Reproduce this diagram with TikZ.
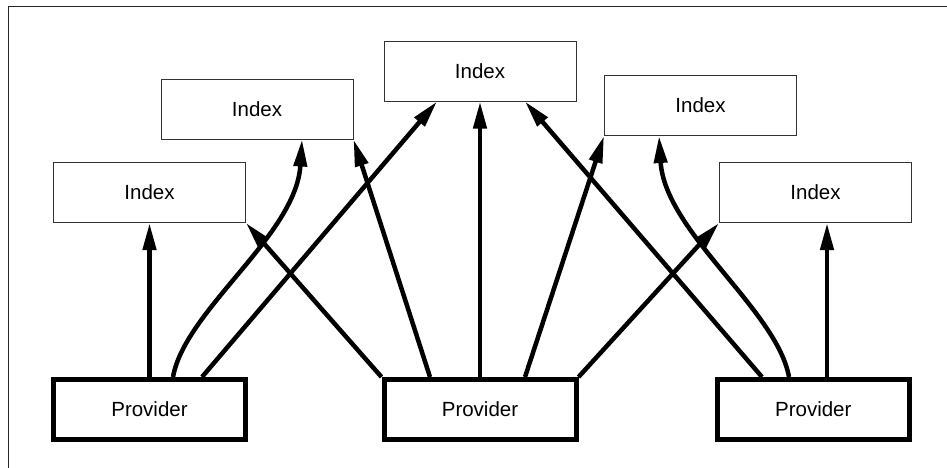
\documentclass[tikz,border=0pt]{standalone}
\usepackage{fontspec}
\setmainfont{Liberation Sans}
\usetikzlibrary{arrows.meta}
\begin{document}
\begin{tikzpicture}[x=1pt,y=-1pt,
  indexbox/.style={draw=black!80, line width=1pt, minimum width=192pt, minimum height=60pt, inner sep=0pt, font=\fontsize{20.5}{24}\selectfont},
  provbox/.style={draw=black, line width=5pt, minimum width=192pt, minimum height=60pt, inner sep=0pt, font=\fontsize{20.5}{24}\selectfont},
  link/.style={line width=4.5pt, -{Triangle[length=27pt,width=13pt]}}
]
\useasboundingbox (0,0) rectangle (947,467);
\draw[line width=1pt, black!85] (8,470) -- (8,6.5) -- (950,6.5);

\node[indexbox] (i1) at (149.5,192.5) {Index};
\node[indexbox] (i2) at (257,109) {Index};
\node[indexbox] (i3) at (480,71) {Index};
\node[indexbox] (i4) at (700.5,105.5) {Index};
\node[indexbox] (i5) at (815.5,192.5) {Index};

\node[provbox] (p1) at (149.5,409.5) {Provider};
\node[provbox] (p2) at (480,409.5) {Provider};
\node[provbox] (p3) at (813.3,409.5) {Provider};

% provider 1
\draw[link] (p1.north) -- (i1.south);
\draw[link] ([xshift=23.5pt]p1.north) .. controls +(12,-67) and +(-6,96) .. ([xshift=45pt]i2.south);
\draw[link] ([xshift=52.5pt]p1.north) -- ([xshift=-43pt]i3.south);

% provider 2
\draw[link] (p2.north west) -- (i1.south east);
\draw[link] ([xshift=-50pt]p2.north) -- (i2.south east);
\draw[link] (p2.north) -- (i3.south);
\draw[link] ([xshift=45pt]p2.north) -- (i4.south west);
\draw[link] (p2.north east) -- (i5.south west);

% provider 3
\draw[link] ([xshift=-51.3pt]p3.north) -- ([xshift=45pt]i3.south);
\draw[link] ([xshift=-24.3pt]p3.north) .. controls +(-12,-67) and +(6,96) .. ([xshift=-41.5pt]i4.south);
\draw[link] ([xshift=13.7pt]p3.north) -- ([xshift=11.5pt]i5.south);
\end{tikzpicture}
\end{document}
